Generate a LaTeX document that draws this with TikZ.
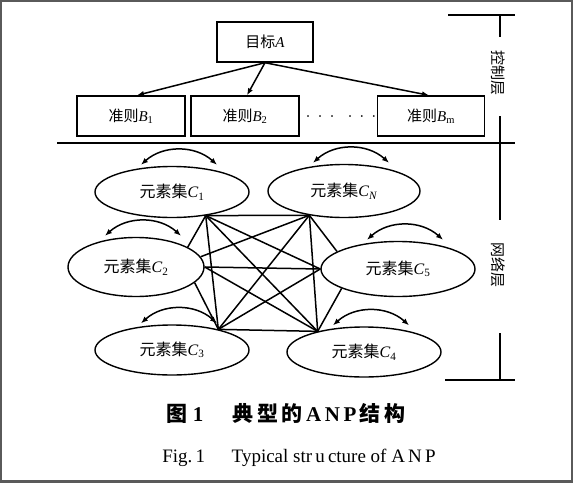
\documentclass[tikz,border=0pt]{standalone}
\usepackage{fontspec}
\usepackage{tikz}
\usepackage{xcolor}
\setmainfont{Liberation Serif}
\newfontfamily\cjk{Noto Sans CJK SC}
\usetikzlibrary{shapes,arrows,arrows.meta,positioning}
\definecolor{frameGray}{RGB}{90,90,90}
\newcommand{\zh}[1]{{\cjk #1}}
\newcommand{\elset}[1]{\zh{元素集}\textit{C}\textsubscript{#1}}

\begin{document}
\begin{tikzpicture}[x=1pt,y=1pt,>={Latex[length=7pt,width=5.5pt]},
    box/.style={draw,line width=1.4pt,minimum width=108pt,minimum height=40pt,font=\fontsize{15}{17}\selectfont},
    cset/.style={draw,ellipse,line width=1.4pt,fill=white,inner sep=0pt,font=\fontsize{16}{18}\selectfont},
    link/.style={line width=1.5pt},
    selfloop/.style={<->,line width=1.5pt}]
    \useasboundingbox (0,0) rectangle (573,-482);
    \draw[frameGray,line width=4pt] (0,0) rectangle (573,-482);

    % control layer
    \node[box,minimum width=96pt] (goal) at (265,-42) {\zh{目标}\textit{A}};
    \node[box] (b1) at (131,-116) {\zh{准则}\textit{B}\textsubscript{1}};
    \node[box] (b2) at (245,-116) {\zh{准则}\textit{B}\textsubscript{2}};
    \node[box,minimum width=107pt] (bm) at (431,-116) {\zh{准则}\textit{B}\textsubscript{m}};
    \node[font=\fontsize{15}{17}\selectfont] (dots) at (341,-119)
        {·\hspace{7pt}·\hspace{7pt}·\hspace{13pt}·\hspace{7pt}·\hspace{7pt}·};
    \draw[->,line width=1.5pt] (goal.south) -- ([xshift=6pt]b1.north);
    \draw[->,line width=1.5pt] (goal.south) -- ([xshift=2pt]b2.north);
    \draw[->,line width=1.5pt] (goal.south) -- ([xshift=-2pt]bm.north);
    \draw[line width=1.6pt] (57,-143) -- (515,-143);

    % network layer
    \node[cset,minimum width=154pt,minimum height=51pt] (c1) at (172,-192) {\elset{1}};
    \node[cset,minimum width=152pt,minimum height=53pt] (cn) at (344,-191) {\elset{\textit{N}}};
    \node[cset,minimum width=136pt,minimum height=59pt] (c2) at (136,-267) {\elset{2}};
    \node[cset,minimum width=154pt,minimum height=55pt] (c5) at (398,-269) {\elset{5}};
    \node[cset,minimum width=154pt,minimum height=50pt] (c3) at (172,-350) {\elset{3}};
    \node[cset,minimum width=154pt,minimum height=50pt] (c4) at (364,-352) {\elset{4}};
    \coordinate (h1) at (c1.-35);
    \coordinate (hn) at (cn.215);
    \coordinate (h3) at (c3.24);
    \coordinate (h4) at (c4.156);
    \foreach \a/\b in {h1/hn, h1/c2.21, h1/h3, h1/h4, h1/c5.west,
                       hn/c2.9, hn/h3, hn/h4, hn/c5.164,
                       c2.-15/h3, c2.east/h4, c2.east/c5.west,
                       h3/h4, h3/c5.west, h4/c5.199}
        \draw[link] (\a) -- (\b);
    \foreach \n in {c1,cn,c2,c5,c3,c4}
        \draw[selfloop] ([xshift=-31pt,yshift=1pt]\n.north) to[bend left=42] ([xshift=45pt,yshift=1pt]\n.north);

    % layer marks
    \draw[line width=1.5pt] (448,-15) -- (515,-15);
    \draw[line width=1.5pt] (500,-15) -- (500,-37);
    \node[rotate=-90,font=\fontsize{15}{17}\selectfont] (ctrl) at (498,-73) {\zh{控制层}};
    \draw[line width=1.5pt] (500,-116) -- (500,-220);
    \node[rotate=-90,font=\fontsize{15}{17}\selectfont] (net) at (498,-265) {\zh{网络层}};
    \draw[line width=1.5pt] (500,-333) -- (500,-380);
    \draw[line width=1.5pt] (445,-380) -- (515,-380);

    % caption
    \node[font=\fontsize{21}{25}\selectfont\bfseries] (cap) at (286,-413)
        {\zh{图}~1\hspace{1.4em}\zh{典\,型\,的}\,A\,N\,P\,\zh{结\,构}};
    \node[font=\fontsize{19}{22}\selectfont] (capen) at (299,-458)
        {Fig.\,1\hspace{1.4em}Typical str\,u\,cture of A\,N\,P};
\end{tikzpicture}
\end{document}
